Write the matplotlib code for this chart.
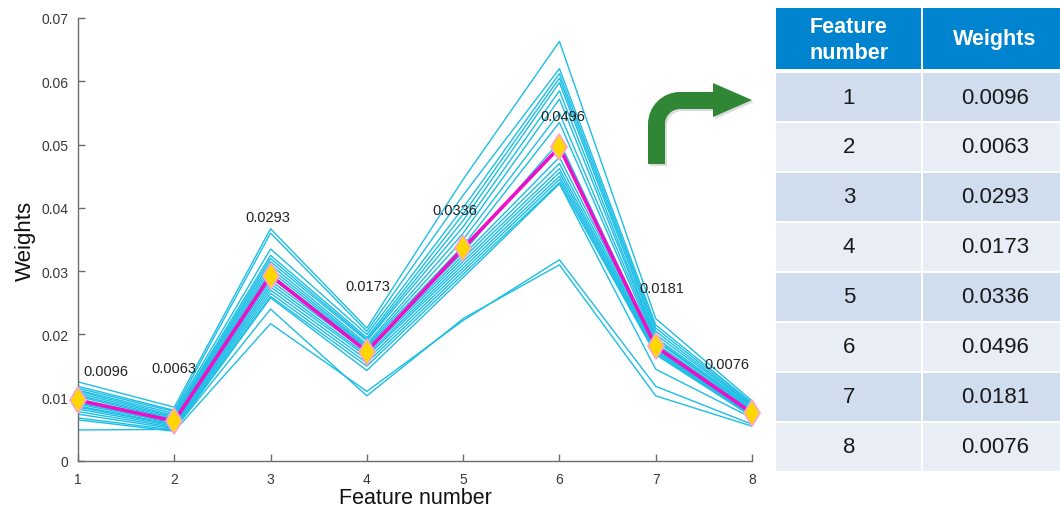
import matplotlib
matplotlib.use("Agg")
import matplotlib.pyplot as plt
from matplotlib.path import Path
from matplotlib.patches import PathPatch, Rectangle
import numpy as np

plt.rcParams['font.family'] = ['Liberation Sans', 'DejaVu Sans']

# ---------------- data ----------------
features = [1, 2, 3, 4, 5, 6, 7, 8]
mean_weights = [0.0096, 0.0063, 0.0293, 0.0173, 0.0336, 0.0496, 0.0181, 0.0076]
weight_labels = ["0.0096", "0.0063", "0.0293", "0.0173", "0.0336", "0.0496", "0.0181", "0.0076"]

run01 = [0.0125, 0.0085, 0.0367, 0.0210, 0.0445, 0.0663, 0.0225, 0.0095]
run02 = [0.0118, 0.0080, 0.0360, 0.0205, 0.0420, 0.0620, 0.0215, 0.0092]
run03 = [0.0115, 0.0078, 0.0335, 0.0200, 0.0400, 0.0612, 0.0210, 0.0090]
run04 = [0.0112, 0.0075, 0.0325, 0.0195, 0.0390, 0.0605, 0.0205, 0.0088]
run05 = [0.0110, 0.0072, 0.0320, 0.0192, 0.0380, 0.0598, 0.0200, 0.0087]
run06 = [0.0107, 0.0070, 0.0315, 0.0190, 0.0370, 0.0585, 0.0195, 0.0085]
run07 = [0.0104, 0.0068, 0.0310, 0.0185, 0.0360, 0.0572, 0.0192, 0.0083]
run08 = [0.0102, 0.0066, 0.0305, 0.0182, 0.0350, 0.0550, 0.0190, 0.0082]
run09 = [0.0098, 0.0065, 0.0300, 0.0180, 0.0340, 0.0535, 0.0186, 0.0080]
run10 = [0.0095, 0.0063, 0.0295, 0.0178, 0.0330, 0.0505, 0.0183, 0.0078]
run11 = [0.0092, 0.0062, 0.0290, 0.0175, 0.0325, 0.0480, 0.0180, 0.0077]
run12 = [0.0090, 0.0060, 0.0285, 0.0172, 0.0320, 0.0470, 0.0178, 0.0076]
run13 = [0.0087, 0.0058, 0.0280, 0.0168, 0.0315, 0.0462, 0.0176, 0.0075]
run14 = [0.0085, 0.0057, 0.0275, 0.0165, 0.0310, 0.0456, 0.0174, 0.0074]
run15 = [0.0082, 0.0055, 0.0270, 0.0160, 0.0305, 0.0450, 0.0172, 0.0073]
run16 = [0.0078, 0.0053, 0.0265, 0.0155, 0.0300, 0.0445, 0.0170, 0.0072]
run17 = [0.0074, 0.0051, 0.0260, 0.0150, 0.0295, 0.0440, 0.0168, 0.0070]
run18 = [0.0068, 0.0049, 0.0258, 0.0143, 0.0290, 0.0438, 0.0145, 0.0068]
run19 = [0.0065, 0.0047, 0.0217, 0.0110, 0.0222, 0.0318, 0.0118, 0.0058]
run20 = [0.0049, 0.0050, 0.0240, 0.0103, 0.0225, 0.0310, 0.0103, 0.0055]
runs = [run01, run02, run03, run04, run05, run06, run07, run08, run09, run10,
        run11, run12, run13, run14, run15, run16, run17, run18, run19, run20]

y_ticks = [0, 0.01, 0.02, 0.03, 0.04, 0.05, 0.06, 0.07]
y_tick_labels = ["0", "0.01", "0.02", "0.03", "0.04", "0.05", "0.06", "0.07"]

# annotation placement (layout, data coords)
label_x = [1.29, 2.00, 2.97, 4.01, 4.91, 6.04, 7.06, 7.74]
label_y = [0.0142, 0.0147, 0.0386, 0.0277, 0.0397, 0.0545, 0.0274, 0.0153]

table_header = ["Feature\nnumber", "Weights"]

# ---------------- figure ----------------
W, H = 1060, 510
fig = plt.figure(figsize=(W / 100, H / 100), dpi=100)
ax = fig.add_axes([78 / W, 1 - 462 / H, (752 - 78) / W, (462 - 19) / H])

cyan = '#1CBEE6'
for r in runs:
    ax.plot(features, r, color=cyan, lw=1.0, zorder=2)
ax.plot(features, mean_weights, color='#EE10C8', lw=2.6, zorder=3)
ax.plot(features, mean_weights, linestyle='none', marker='d', markersize=13,
        markerfacecolor='#FFD700', markeredgecolor='#F7A8C8', markeredgewidth=1.3,
        zorder=4, clip_on=False)

for x, y, t in zip(label_x, label_y, weight_labels):
    ax.text(x, y, t, ha='center', va='center', fontsize=10.5, color='#222222', zorder=5)

ax.set_xlim(1, 8)
ax.set_ylim(0, 0.07)
ax.set_xticks(features)
ax.set_xticklabels([str(f) for f in features])
ax.set_yticks(y_ticks)
ax.set_yticklabels(y_tick_labels)
for s in ['top', 'right']:
    ax.spines[s].set_visible(False)
for s in ['left', 'bottom']:
    ax.spines[s].set_color('#6b6b6b')
    ax.spines[s].set_linewidth(1.0)
ax.tick_params(direction='in', length=5, width=1, colors='#6b6b6b',
               labelcolor='#383838', labelsize=10)
ax.tick_params(axis='y', pad=7)
ax.tick_params(axis='x', pad=8)
ax.set_xlabel("Feature number", fontsize=15.5, color='#111111', labelpad=1)
ax.set_ylabel("Weights", fontsize=16, color='#111111', labelpad=4)

# ---------------- overlay (table + arrow), pixel coords ----------------
ov = fig.add_axes([0, 0, 1, 1], zorder=10)
ov.set_xlim(0, W)
ov.set_ylim(H, 0)
ov.axis('off')
ov.patch.set_alpha(0)

x0, xm, x1 = 776, 922, 1062
c1, c2 = 849, 995
hdr_top, hdr_bot = 9, 70
ov.add_patch(Rectangle((x0, hdr_top), xm - x0 - 1, hdr_bot - hdr_top, color='#0084D0', lw=0))
ov.add_patch(Rectangle((xm + 1, hdr_top), x1 - xm, hdr_bot - hdr_top, color='#0084D0', lw=0))
ov.text(c1, (hdr_top + hdr_bot) / 2 + 1, table_header[0], ha='center', va='center',
        fontsize=15.5, fontweight='bold', color='white', linespacing=1.3)
ov.text(c2, (hdr_top + hdr_bot) / 2, table_header[1], ha='center', va='center',
        fontsize=15.5, fontweight='bold', color='white')

row_h = 50
row_top0 = 74
for i, (f, wl) in enumerate(zip(features, weight_labels)):
    top = row_top0 + i * row_h
    col = '#CFDDEE' if i % 2 == 0 else '#E9EEF6'
    ov.add_patch(Rectangle((x0, top), xm - x0 - 1, row_h - 2, color=col, lw=0))
    ov.add_patch(Rectangle((xm + 1, top), x1 - xm, row_h - 2, color=col, lw=0))
    ov.text(c1, top + row_h / 2 - 1, str(f), ha='center', va='center',
            fontsize=16, color='#1a1a1a')
    ov.text(c2, top + row_h / 2 - 1, wl, ha='center', va='center',
            fontsize=16, color='#1a1a1a')

# bent arrow
def arrow_path(dx=0, dy=0):
    k = 0.5523
    sl, sr, sb = 648 + dx, 665 + dx, 165 + dy
    ht, hb = 93 + dy, 110 + dy
    ro, ri = 32, 15
    hx = 713 + dx
    verts = [
        (sl, sb), (sl, ht + ro),
        (sl, ht + ro - k * ro), (sl + ro - k * ro, ht), (sl + ro, ht),
        (hx, ht), (hx, 84 + dy), (752 + dx, 101 + dy), (hx, 118 + dy), (hx, hb),
        (sr + ri, hb),
        (sr + ri - k * ri, hb), (sr, hb + ri - k * ri), (sr, hb + ri),
        (sr, sb), (sl, sb),
    ]
    codes = [Path.MOVETO, Path.LINETO,
             Path.CURVE4, Path.CURVE4, Path.CURVE4,
             Path.LINETO, Path.LINETO, Path.LINETO, Path.LINETO, Path.LINETO,
             Path.LINETO,
             Path.CURVE4, Path.CURVE4, Path.CURVE4,
             Path.LINETO, Path.CLOSEPOLY]
    return Path(verts, codes)

ov.add_patch(PathPatch(arrow_path(2, 2), facecolor='#999999', edgecolor='none', alpha=0.35))
ov.add_patch(PathPatch(arrow_path(), facecolor='#2F8736', edgecolor='none'))

fig.savefig("out.png", dpi=100, facecolor='white')
